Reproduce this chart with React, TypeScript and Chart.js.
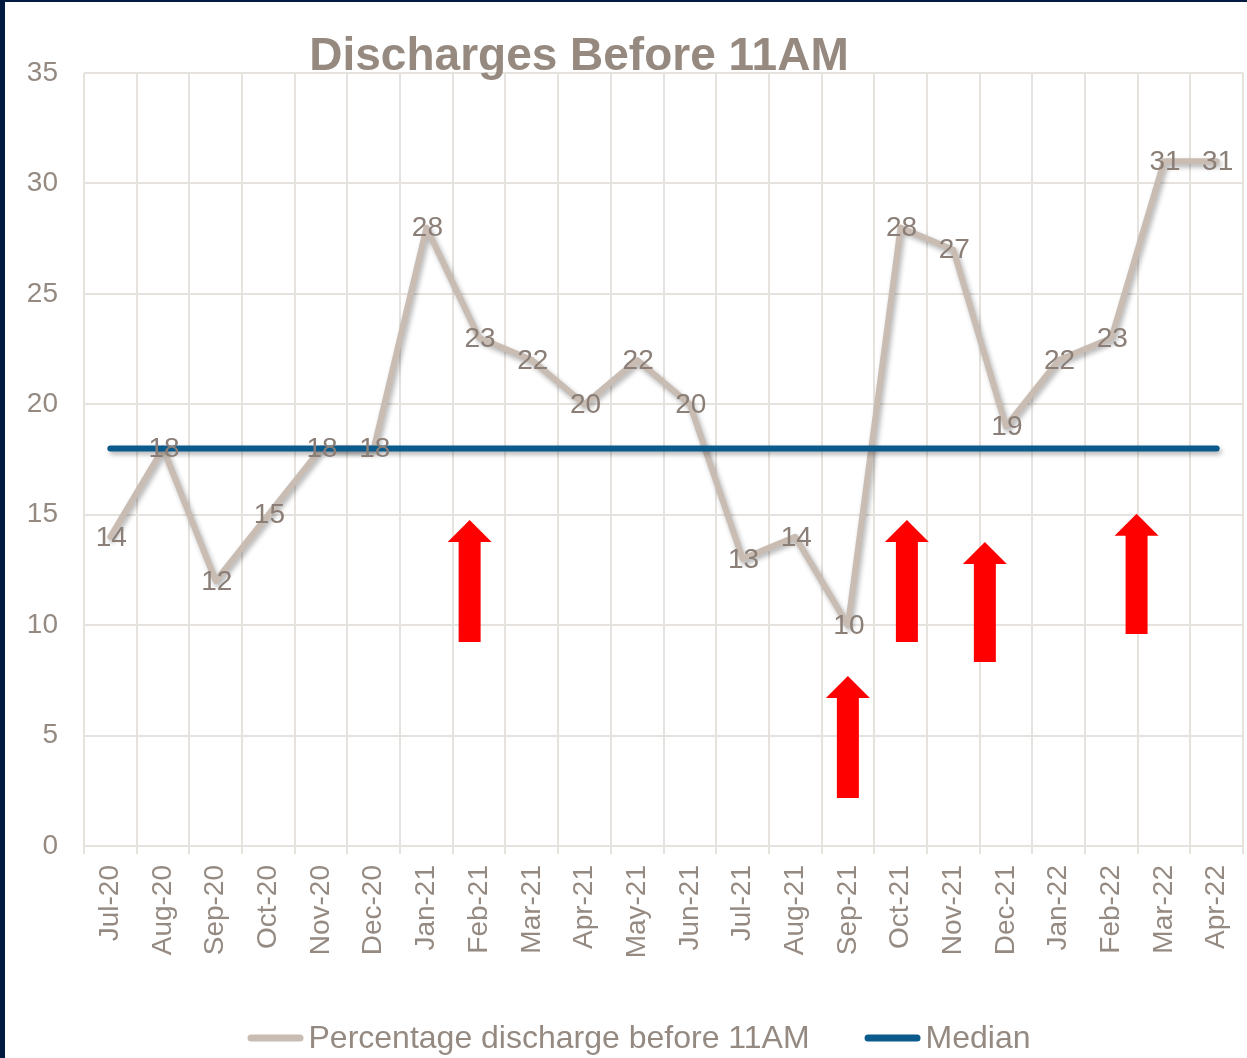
import React, { useEffect, useRef } from "react";
import { Chart, registerables } from "chart.js";

Chart.register(...registerables);

const FONT = "'Liberation Sans', Arial, Helvetica, sans-serif";

const months = [
  "Jul-20", "Aug-20", "Sep-20", "Oct-20", "Nov-20", "Dec-20",
  "Jan-21", "Feb-21", "Mar-21", "Apr-21", "May-21", "Jun-21",
  "Jul-21", "Aug-21", "Sep-21", "Oct-21", "Nov-21", "Dec-21",
  "Jan-22", "Feb-22", "Mar-22", "Apr-22",
];

const pctBefore11 = [14, 18, 12, 15, 18, 18, 28, 23, 22, 20, 22, 20, 13, 14, 10, 28, 27, 19, 22, 23, 31, 31];

const medianValue = 18;
const medianSeries = months.map(() => medianValue);

const yMin = 0;
const yMax = 35;
const yStep = 5;

// red arrow annotations: x as (fractional) category index, y range in data units
const arrowX = [6.82, 14.0, 15.12, 16.6, 19.48];
const arrowTop = [14.76, 7.7, 14.76, 13.77, 15.04];
const arrowBottom = [9.24, 2.17, 9.24, 8.33, 9.6];

const TITLE = "Discharges Before 11AM";
const LABEL_MAIN = "Percentage discharge before 11AM";
const LABEL_MEDIAN = "Median";

const GRID = "#e6e2de";
const TEXT = "#958a82";
const GRAY_LINE = "#c8bcb3";
const BLUE_LINE = "#0a5a8c";

const shadowPlugin = {
  id: "shadowLines",
  beforeDatasetDraw(chart: any) {
    const ctx = chart.ctx;
    ctx.save();
    ctx.shadowColor = "rgba(0,0,0,0.30)";
    ctx.shadowBlur = 5;
    ctx.shadowOffsetX = 2;
    ctx.shadowOffsetY = 3;
  },
  afterDatasetDraw(chart: any) {
    chart.ctx.restore();
  },
};

const arrowPlugin = {
  id: "redArrows",
  afterDatasetsDraw(chart: any) {
    const ctx = chart.ctx;
    const xs = chart.scales.x;
    const ys = chart.scales.y;
    const shaftW = 22;
    const headW = 44;
    const headH = 22;
    ctx.save();
    ctx.fillStyle = "#ff0000";
    arrowX.forEach((xi, i) => {
      const cx = xs.getPixelForValue(xi);
      const top = ys.getPixelForValue(arrowTop[i]);
      const bottom = ys.getPixelForValue(arrowBottom[i]);
      ctx.beginPath();
      ctx.moveTo(cx, top);
      ctx.lineTo(cx + headW / 2, top + headH);
      ctx.lineTo(cx + shaftW / 2, top + headH);
      ctx.lineTo(cx + shaftW / 2, bottom);
      ctx.lineTo(cx - shaftW / 2, bottom);
      ctx.lineTo(cx - shaftW / 2, top + headH);
      ctx.lineTo(cx - headW / 2, top + headH);
      ctx.closePath();
      ctx.fill();
    });
    ctx.restore();
  },
};

const labelPlugin = {
  id: "valueLabels",
  afterDatasetsDraw(chart: any) {
    const ctx = chart.ctx;
    const meta = chart.getDatasetMeta(0);
    ctx.save();
    ctx.font = `28px ${FONT}`;
    ctx.fillStyle = "#8a7e76";
    ctx.textAlign = "center";
    ctx.textBaseline = "middle";
    meta.data.forEach((pt: any, i: number) => {
      ctx.fillText(String(pctBefore11[i]), pt.x + 1, pt.y + 1);
    });
    ctx.restore();
  },
};

const titlePlugin = {
  id: "customTitle",
  afterDraw(chart: any) {
    const ctx = chart.ctx;
    ctx.save();
    ctx.font = `bold 46px ${FONT}`;
    ctx.fillStyle = "#968a80";
    ctx.textAlign = "center";
    ctx.textBaseline = "alphabetic";
    ctx.fillText(TITLE, 574, 68);
    ctx.restore();
  },
};

const legendPlugin = {
  id: "customLegend",
  afterDraw(chart: any) {
    const ctx = chart.ctx;
    ctx.save();
    ctx.font = `32px ${FONT}`;
    ctx.textBaseline = "middle";
    ctx.textAlign = "left";
    const items = chart.data.datasets.map((ds: any) => ({ label: ds.label, color: ds.borderColor }));
    const boxW = 56;
    const gap = 5;
    const spacing = 55;
    const widths = items.map((it: any) => boxW + gap + ctx.measureText(it.label).width);
    const total = widths.reduce((a: number, b: number) => a + b, 0) + spacing * (items.length - 1);
    let x = chart.width / 2 + 13 - total / 2;
    const y = chart.height - 20;
    items.forEach((it: any, i: number) => {
      ctx.strokeStyle = it.color;
      ctx.lineWidth = 7;
      ctx.lineCap = "round";
      ctx.beginPath();
      ctx.moveTo(x + 3.5, y);
      ctx.lineTo(x + boxW - 3.5, y);
      ctx.stroke();
      ctx.fillStyle = TEXT;
      ctx.fillText(it.label, x + boxW + gap, y + 1);
      x += widths[i] + spacing;
    });
    ctx.restore();
  },
};

export default function App() {
  const canvasRef = useRef<HTMLCanvasElement | null>(null);

  useEffect(() => {
    if (!canvasRef.current) return;
    const chart = new Chart(canvasRef.current, {
      type: "line",
      data: {
        labels: months,
        datasets: [
          {
            label: LABEL_MAIN,
            data: pctBefore11,
            borderColor: GRAY_LINE,
            backgroundColor: GRAY_LINE,
            borderWidth: 6,
            pointRadius: 0,
            tension: 0,
            borderJoinStyle: "round",
            borderCapStyle: "round",
            order: 1,
          },
          {
            label: LABEL_MEDIAN,
            data: medianSeries,
            borderColor: BLUE_LINE,
            backgroundColor: BLUE_LINE,
            borderWidth: 6,
            pointRadius: 0,
            tension: 0,
            borderCapStyle: "round",
            order: 0,
          },
        ],
      },
      options: {
        responsive: false,
        animation: false,
        layout: { padding: { left: 22, right: 4, top: 71, bottom: 100 } },
        plugins: {
          legend: { display: false },
          title: { display: false },
          tooltip: { enabled: false },
        },
        scales: {
          x: {
            offset: true,
            grid: { offset: true, color: GRID, lineWidth: 2, tickLength: 8, drawTicks: true },
            border: { color: GRID, width: 2 },
            ticks: {
              autoSkip: false,
              maxRotation: 90,
              minRotation: 90,
              padding: 11,
              color: TEXT,
              font: { size: 28, family: FONT },
            },
            afterFit(scale: any) {
              scale.height = 112;
              scale.paddingLeft = 0;
              scale.paddingRight = 0;
            },
          },
          y: {
            min: yMin,
            max: yMax,
            grid: { color: GRID, lineWidth: 2, drawTicks: false },
            border: { display: false },
            ticks: {
              stepSize: yStep,
              padding: 26,
              color: TEXT,
              font: { size: 28, family: FONT },
            },
            afterFit(scale: any) {
              scale.width = 57;
            },
          },
        },
      },
      plugins: [shadowPlugin, arrowPlugin, labelPlugin, titlePlugin, legendPlugin],
    } as any);
    return () => chart.destroy();
  }, []);

  return (
    <div
      style={{
        position: "fixed",
        left: 0,
        top: 0,
        width: 1247,
        height: 1058,
        boxSizing: "border-box",
        background: "#ffffff",
        borderLeft: "5px solid #011a40",
        borderTop: "2px solid #011a40",
      }}
    >
      <canvas ref={canvasRef} width={1242} height={1056} style={{ display: "block" }} />
    </div>
  );
}
